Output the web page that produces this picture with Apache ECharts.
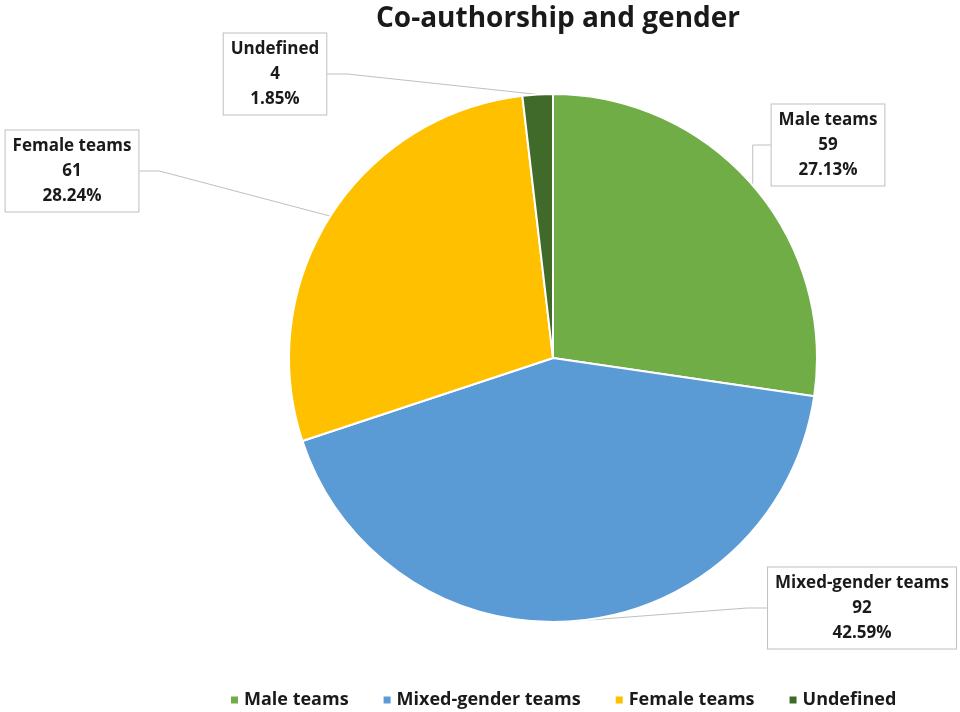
<!DOCTYPE html>
<html>
<head>
<meta charset="utf-8">
<title>Co-authorship and gender</title>
<script src="https://cdn.jsdelivr.net/npm/echarts@6/dist/echarts.min.js"></script>
<style>
  html, body { margin: 0; padding: 0; background: #ffffff; }
  #chart { width: 960px; height: 712px; }
</style>
</head>
<body>
<div id="chart"></div>
<script>
// Team composition categories and paper counts
const categories = ['Male teams', 'Mixed-gender teams', 'Female teams', 'Undefined'];
const counts = [59, 92, 61, 4];
// Percentage texts as printed on the callouts
const percentLabels = ['27.13%', '42.59%', '28.24%', '1.85%'];

const colors = ['#70AD47', '#5B9BD5', '#FFC000', '#3F6A2A'];

// Where each callout box sits (box centre, px)
const calloutPos = {
  'Male teams': [828, 145],
  'Mixed-gender teams': [862, 608],
  'Female teams': [72, 171],
  'Undefined': [275, 74]
};

const FONT = '"Open Sans", "Noto Sans", sans-serif';

const chart = echarts.init(document.getElementById('chart'), null, { renderer: 'canvas' });

chart.setOption({
  backgroundColor: '#ffffff',
  animation: false,
  color: colors,
  title: {
    text: 'Co-authorship and gender',
    left: 553,
    textAlign: 'center',
    top: 0,
    textStyle: { fontFamily: FONT, fontSize: 28, fontWeight: 'bold', color: '#1a1a1a' }
  },
  legend: {
    top: 686,
    left: 224,
    icon: 'rect',
    itemWidth: 9,
    itemHeight: 9,
    itemGap: 33,
    textStyle: { fontFamily: FONT, fontSize: 18, fontWeight: 'bold', color: '#1a1a1a' },
    data: categories
  },
  series: [{
    type: 'pie',
    center: [553, 358],
    radius: 264,
    startAngle: 90,
    clockwise: true,
    avoidLabelOverlap: false,
    itemStyle: { borderColor: '#ffffff', borderWidth: 2 },
    data: categories.map((name, i) => ({ name: name, value: counts[i] })),
    label: {
      show: true,
      position: 'outside',
      formatter: p => p.name + '\n' + p.value + '\n' + percentLabels[p.dataIndex],
      fontFamily: FONT,
      fontSize: 17,
      fontWeight: 'bold',
      lineHeight: 25,
      color: '#1a1a1a',
      align: 'center',
      backgroundColor: '#ffffff',
      borderColor: '#bfbfbf',
      borderWidth: 1,
      padding: [3, 7, 3, 7]
    },
    labelLine: {
      show: true,
      length: 20,
      length2: 20,
      lineStyle: { color: '#bfbfbf', width: 1 }
    },
    labelLayout: function (params) {
      const name = categories[params.dataIndex];
      const pos = calloutPos[name];
      return { x: pos[0], y: pos[1], align: 'center', verticalAlign: 'middle' };
    },
    emphasis: { disabled: true }
  }]
});
</script>
</body>
</html>
